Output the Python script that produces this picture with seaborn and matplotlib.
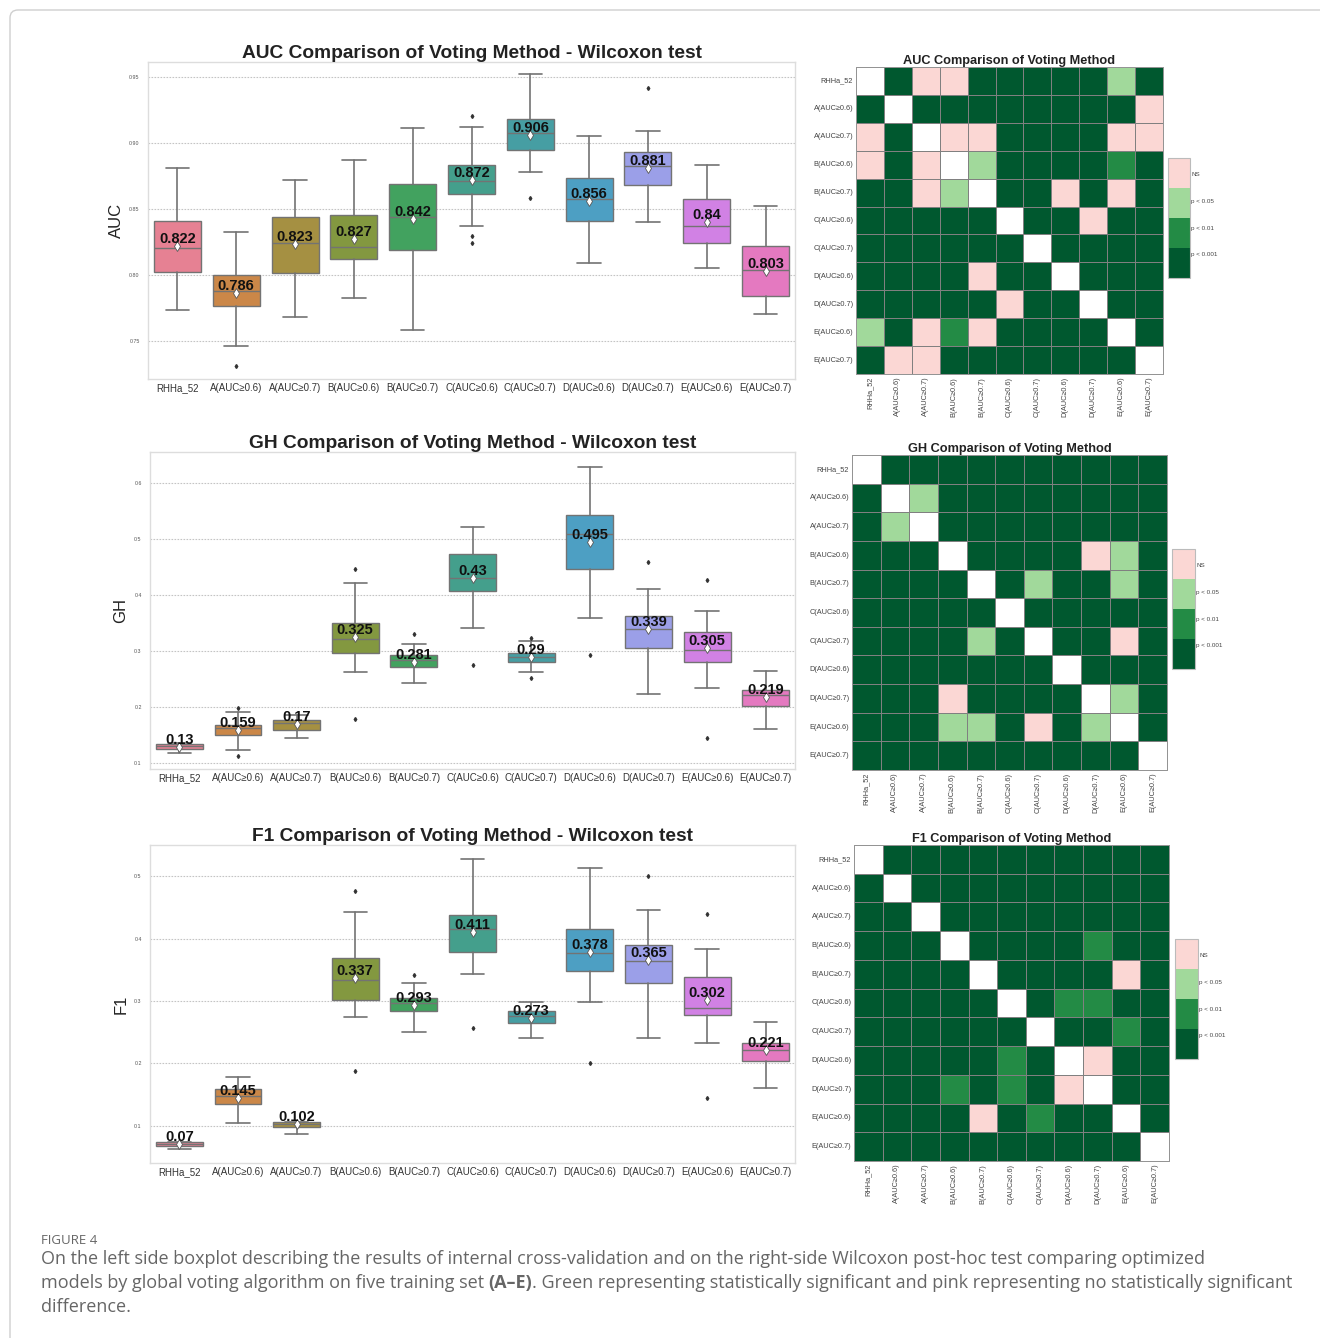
import numpy as np
import matplotlib
matplotlib.use("Agg")
import matplotlib.pyplot as plt
import seaborn as sns
from matplotlib.colors import ListedColormap, BoundaryNorm
from matplotlib.cm import ScalarMappable
from matplotlib.patches import FancyBboxPatch
from matplotlib.transforms import IdentityTransform

# ---------------------------------------------------------------- data
groups = ["RHHa_52", "A(AUC≥0.6)", "A(AUC≥0.7)", "B(AUC≥0.6)", "B(AUC≥0.7)",
          "C(AUC≥0.6)", "C(AUC≥0.7)", "D(AUC≥0.6)", "D(AUC≥0.7)",
          "E(AUC≥0.6)", "E(AUC≥0.7)"]

# AUC box statistics
auc_whislo = [0.773, 0.746, 0.768, 0.7825, 0.758, 0.837, 0.878, 0.809, 0.840, 0.805, 0.770]
auc_q1     = [0.802, 0.776, 0.8015, 0.812, 0.819, 0.861, 0.894, 0.841, 0.868, 0.824, 0.784]
auc_med    = [0.820, 0.788, 0.824, 0.8206, 0.844, 0.871, 0.907, 0.857, 0.882, 0.837, 0.8036]
auc_q3     = [0.841, 0.800, 0.844, 0.845, 0.869, 0.883, 0.918, 0.873, 0.893, 0.857, 0.8216]
auc_whishi = [0.881, 0.832, 0.872, 0.887, 0.911, 0.912, 0.952, 0.905, 0.909, 0.883, 0.852]
auc_mean   = [0.822, 0.786, 0.823, 0.827, 0.842, 0.872, 0.906, 0.856, 0.881, 0.84, 0.803]
auc_fliers = [[], [0.731], [], [], [], [0.920, 0.829, 0.824], [0.858], [], [0.941], [], []]

# GH box statistics
gh_whislo = [0.119, 0.123, 0.146, 0.263, 0.243, 0.342, 0.263, 0.359, 0.224, 0.234, 0.161]
gh_q1     = [0.126, 0.150, 0.160, 0.297, 0.272, 0.408, 0.280, 0.446, 0.305, 0.280, 0.202]
gh_med    = [0.131, 0.163, 0.172, 0.322, 0.284, 0.431, 0.290, 0.508, 0.340, 0.302, 0.222]
gh_q3     = [0.135, 0.169, 0.178, 0.351, 0.293, 0.473, 0.296, 0.542, 0.363, 0.334, 0.231]
gh_whishi = [0.136, 0.192, 0.187, 0.421, 0.313, 0.522, 0.318, 0.629, 0.411, 0.371, 0.264]
gh_mean   = [0.13, 0.159, 0.17, 0.325, 0.281, 0.43, 0.29, 0.495, 0.339, 0.305, 0.219]
gh_fliers = [[], [0.199, 0.113], [], [0.447, 0.180], [0.330], [0.275],
             [0.324, 0.253], [0.293], [0.459], [0.426, 0.146], []]

# F1 box statistics
f1_whislo = [0.0625, 0.104, 0.087, 0.274, 0.250, 0.343, 0.241, 0.298, 0.241, 0.232, 0.161]
f1_q1     = [0.067, 0.135, 0.097, 0.301, 0.283, 0.378, 0.264, 0.348, 0.328, 0.277, 0.203]
f1_med    = [0.070, 0.148, 0.102, 0.333, 0.296, 0.415, 0.275, 0.376, 0.364, 0.288, 0.222]
f1_q3     = [0.073, 0.158, 0.105, 0.369, 0.304, 0.438, 0.284, 0.416, 0.390, 0.339, 0.233]
f1_whishi = [0.074, 0.178, 0.106, 0.443, 0.329, 0.527, 0.299, 0.513, 0.446, 0.384, 0.266]
f1_mean   = [0.07, 0.145, 0.102, 0.337, 0.293, 0.411, 0.273, 0.378, 0.365, 0.302, 0.221]
f1_fliers = [[], [], [], [0.476, 0.188], [0.341], [0.256], [], [0.200], [0.500],
             [0.439, 0.145], []]

# Wilcoxon post-hoc significance levels
# W = same model, D = p < 0.001, M = p < 0.01, L = p < 0.05, N = not significant
auc_sig = ["WDNNDDDDDLD",
           "DWDDDDDDDDN",
           "NDWNNDDDDNN",
           "NDNWLDDDDMD",
           "DDNLWDDNDND",
           "DDDDDWDDNDD",
           "DDDDDDWDDDD",
           "DDDDNDDWDDD",
           "DDDDDNDDWDD",
           "LDNMNDDDDWD",
           "DNNDDDDDDDW"]
gh_sig = ["WDDDDDDDDDD",
          "DWLDDDDDDDD",
          "DLWDDDDDDDD",
          "DDDWDDDDNLD",
          "DDDDWDLDDLD",
          "DDDDDWDDDDD",
          "DDDDLDWDDND",
          "DDDDDDDWDDD",
          "DDDNDDDDWLD",
          "DDDLLDNDLWD",
          "DDDDDDDDDDW"]
f1_sig = ["WDDDDDDDDDD",
          "DWDDDDDDDDD",
          "DDWDDDDDDDD",
          "DDDWDDDDMDD",
          "DDDDWDDDDND",
          "DDDDDWDMMDD",
          "DDDDDDWDDMD",
          "DDDDDMDWNDD",
          "DDDMDMDNWDD",
          "DDDDNDMDDWD",
          "DDDDDDDDDDW"]
sig_labels = ["p < 0.001", "p < 0.01", "p < 0.05", "NS"]

# ---------------------------------------------------------------- style
sns.set_theme(style="whitegrid")
plt.rcParams["font.family"] = ["Liberation Sans", "DejaVu Sans"]

W, H = 1320, 1338
fig = plt.figure(figsize=(W / 100, H / 100), dpi=100)
fig.patch.set_facecolor("white")


def px_axes(left, top, right, bottom):
    return fig.add_axes([left / W, 1 - bottom / H, (right - left) / W, (bottom - top) / H])


box_colors = sns.color_palette(sns.color_palette("husl", len(groups)), desat=0.75)
line_gray = "#737373"


def box_panel(ax, lo, q1, med, q3, hi, mean, fliers, ylim, yticks, yfmt, ylabel, title):
    stats = [dict(whislo=a, q1=b, med=c, q3=d, whishi=e, mean=m, fliers=f, label=g)
             for a, b, c, d, e, m, f, g in zip(lo, q1, med, q3, hi, mean, fliers, groups)]
    bp = ax.bxp(stats, positions=range(len(groups)), widths=0.8, patch_artist=True,
                showmeans=True,
                boxprops=dict(edgecolor=line_gray, linewidth=1.0),
                whiskerprops=dict(color=line_gray, linewidth=1.2),
                capprops=dict(color=line_gray, linewidth=1.2),
                medianprops=dict(color=line_gray, linewidth=1.0),
                meanprops=dict(marker="d", markerfacecolor="white",
                               markeredgecolor="#555555", markersize=5.5, markeredgewidth=0.6),
                flierprops=dict(marker="d", markerfacecolor="#333333",
                                markeredgecolor="#333333", markersize=2))
    for patch, c in zip(bp["boxes"], box_colors):
        patch.set_facecolor(c)
    for i, m in enumerate(mean):
        ax.text(i, m, f"{m:g}", ha="center", va="bottom", fontsize=10.5,
                fontweight="bold", color="#111111")
    ax.set_xlim(-0.5, len(groups) - 0.5)
    ax.set_ylim(*ylim)
    ax.set_yticks(yticks)
    ax.set_yticklabels([yfmt.format(t) for t in yticks])
    ax.set_xticks(range(len(groups)))
    ax.set_xticklabels(groups)
    ax.tick_params(axis="x", labelsize=7, colors="#333333", length=0, pad=3)
    ax.tick_params(axis="y", labelsize=3.8, colors="#555555", length=0, pad=6)
    ax.xaxis.grid(False)
    ax.yaxis.grid(True, linestyle=(0, (1.5, 1.2)), color="#c4c4c4", linewidth=0.8)
    ax.set_axisbelow(True)
    for sp in ax.spines.values():
        sp.set_color("#dddddd")
        sp.set_linewidth(1.0)
    ax.set_ylabel(ylabel, fontsize=12, color="#222222", labelpad=4)
    ax.set_title(title, fontsize=13.8, fontweight="bold", color="#222222", pad=3)


level_colors = ["#00582f", "#238b45", "#a1d99b", "#fbd7d4"]
level_code = {"D": 1, "M": 2, "L": 3, "N": 4, "W": np.nan}


def sig_panel(ax, cax, rows, title):
    mat = np.array([[level_code[ch] for ch in row] for row in rows], dtype=float)
    cmap = ListedColormap(level_colors)
    sns.heatmap(mat, mask=np.isnan(mat), cmap=cmap, vmin=0.5, vmax=4.5,
                linewidths=0.5, linecolor="0.5", cbar=False, ax=ax,
                xticklabels=groups, yticklabels=groups)
    for coll in ax.collections:
        coll.set_clip_on(False)
    ax.grid(False)
    ax.set_facecolor("white")
    for sp in ax.spines.values():
        sp.set_visible(True)
        sp.set_color("0.6")
        sp.set_linewidth(0.6)
    ax.tick_params(axis="both", labelsize=5.3, colors="#444444", length=0, pad=2)
    ax.set_xticklabels(groups, rotation=90)
    ax.set_yticklabels(groups, rotation=0)
    ax.set_title(title, fontsize=9.2, fontweight="bold", color="#222222", pad=2)
    norm = BoundaryNorm([0, 1, 2, 3, 4], 4)
    cb = fig.colorbar(ScalarMappable(norm=norm, cmap=cmap), cax=cax)
    cb.set_ticks([0.8, 1.67, 2.57, 3.47])
    cb.set_ticklabels(sig_labels)
    cb.minorticks_off()
    cb.outline.set_edgecolor("#bbbbbb")
    cb.outline.set_linewidth(0.8)
    cax.grid(False)
    cax.tick_params(which="both", length=0, labelsize=4.5, colors="#444444", pad=1)


# ---------------------------------------------------------------- panels
ax1 = px_axes(148, 62, 795, 379)
box_panel(ax1, auc_whislo, auc_q1, auc_med, auc_q3, auc_whishi, auc_mean, auc_fliers,
          (0.721, 0.961), [0.75, 0.80, 0.85, 0.90, 0.95], "{:.2f}", "AUC",
          "AUC Comparison of Voting Method - Wilcoxon test")

ax2 = px_axes(150, 452, 795, 769)
box_panel(ax2, gh_whislo, gh_q1, gh_med, gh_q3, gh_whishi, gh_mean, gh_fliers,
          (0.090, 0.655), [0.1, 0.2, 0.3, 0.4, 0.5, 0.6], "{:.1f}", "GH",
          "GH Comparison of Voting Method - Wilcoxon test")

ax3 = px_axes(150, 845, 795, 1163)
box_panel(ax3, f1_whislo, f1_q1, f1_med, f1_q3, f1_whishi, f1_mean, f1_fliers,
          (0.040, 0.550), [0.1, 0.2, 0.3, 0.4, 0.5], "{:.1f}", "F1",
          "F1 Comparison of Voting Method - Wilcoxon test")

h1 = px_axes(856, 67, 1163, 374)
c1 = px_axes(1168, 158, 1190, 278)
sig_panel(h1, c1, auc_sig, "AUC Comparison of Voting Method")

h2 = px_axes(852, 455, 1167, 770)
c2 = px_axes(1172, 549, 1195, 669)
sig_panel(h2, c2, gh_sig, "GH Comparison of Voting Method")

h3 = px_axes(854, 845, 1169, 1161)
c3 = px_axes(1175, 939, 1198, 1059)
sig_panel(h3, c3, f1_sig, "F1 Comparison of Voting Method")

# ---------------------------------------------------------------- caption
cap_kw = dict(family=["Open Sans", "DejaVu Sans"], fontsize=12.95, color="#666666", va="center")
fig.text(41 / W, 1 - 1240 / H, "FIGURE 4", family=["Open Sans", "DejaVu Sans"],
         fontsize=9.5, color="#666666", va="center")
fig.text(41 / W, 1 - 1259 / H,
         "On the left side boxplot describing the results of internal cross-validation and on "
         "the right-side Wilcoxon post-hoc test comparing optimized", **cap_kw)

renderer = fig.canvas.get_renderer()


def text_width(s, **kw):
    t = fig.text(0, 0, s, **kw)
    w = t.get_window_extent(renderer=renderer).width
    t.remove()
    return w


space_w = text_width("x x", **cap_kw) - text_width("xx", **cap_kw)
x = 41
for s, weight in [("models by global voting algorithm on five training set", "normal"),
                  ("(A–E)", "bold"),
                  (". Green representing statistically significant and pink representing "
                   "no statistically significant", "normal")]:
    t = fig.text(x / W, 1 - 1283 / H, s, fontweight=weight, **cap_kw)
    x += t.get_window_extent(renderer=renderer).width
    if s.endswith("set"):
        x += space_w
fig.text(41 / W, 1 - 1307 / H, "difference.", **cap_kw)

# outer frame
frame = FancyBboxPatch((10, -30), 1340, H - 10 + 30, boxstyle="round,pad=0,rounding_size=8",
                       transform=IdentityTransform(), facecolor="none",
                       edgecolor="#cfcfcf", linewidth=1.0)
fig.add_artist(frame)

fig.savefig("out.png", dpi=100, facecolor="white")
